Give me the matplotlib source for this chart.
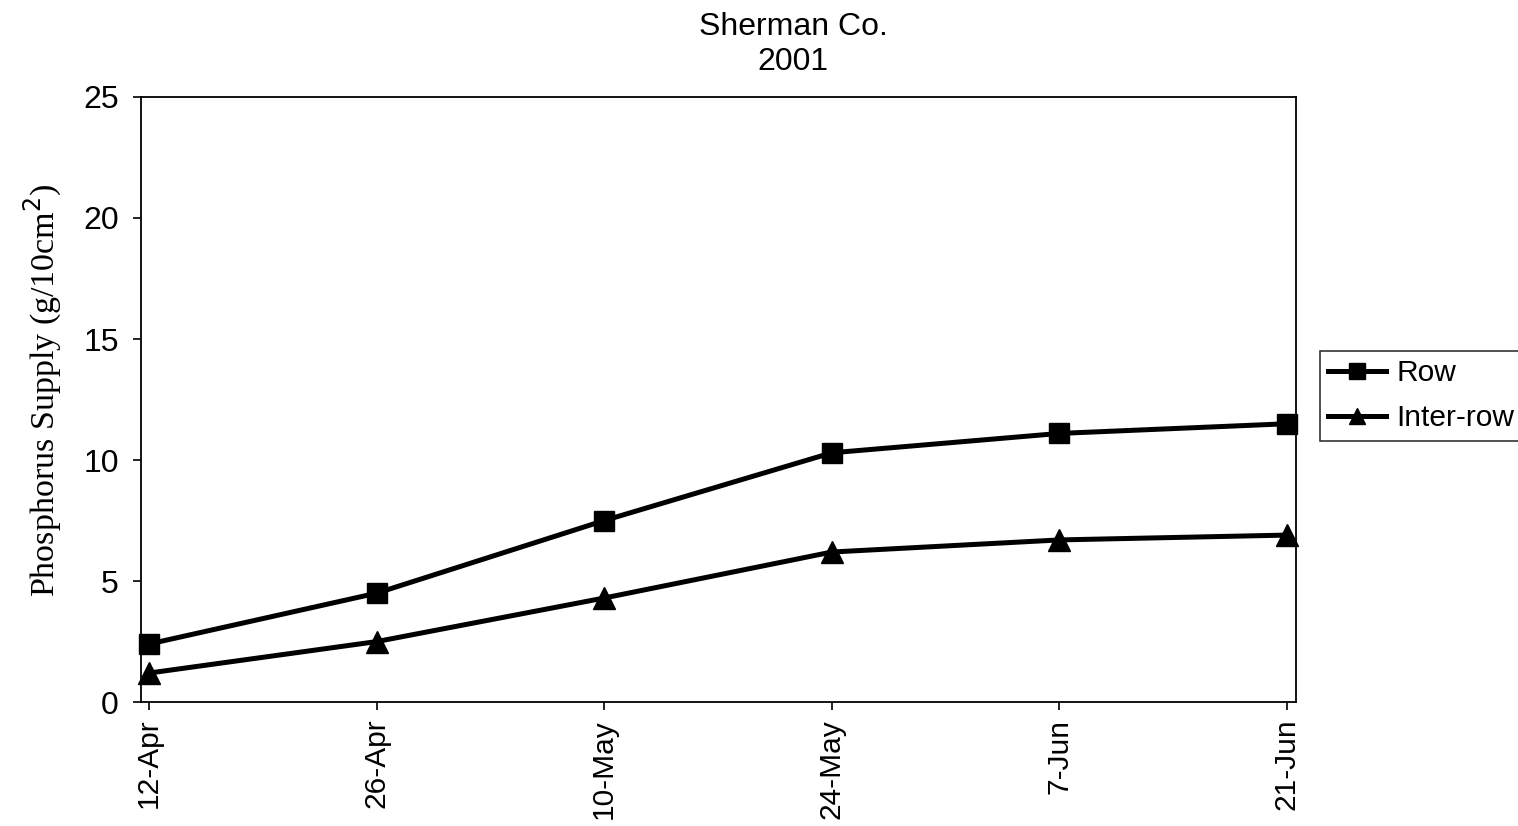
import matplotlib
matplotlib.use("Agg")
import matplotlib.pyplot as plt

dates = ["12-Apr", "26-Apr", "10-May", "24-May", "7-Jun", "21-Jun"]
row = [2.4, 4.5, 7.5, 10.3, 11.1, 11.5]
inter_row = [1.2, 2.5, 4.3, 6.2, 6.7, 6.9]
y_ticks = [0, 5, 10, 15, 20, 25]

sans = ["Liberation Sans", "DejaVu Sans"]
serif = ["Liberation Serif", "DejaVu Serif"]

fig = plt.figure(figsize=(15.18, 8.26), dpi=100)
ax = fig.add_axes([0.0929, 0.150, 0.7609, 0.7326])

x = list(range(len(dates)))
ax.plot(x, row, color="black", lw=3.6, marker="s", ms=15, label="Row",
        clip_on=False, zorder=3)
ax.plot(x, inter_row, color="black", lw=3.6, marker="^", ms=16, label="Inter-row",
        clip_on=False, zorder=3)

ax.set_xlim(-0.035, len(dates) - 1 + 0.04)
ax.set_ylim(0, 25)
ax.set_xticks(x)
ax.set_xticklabels(dates, rotation=90, fontsize=21.5, family=sans)
ax.set_yticks(y_ticks)
ax.set_yticklabels([str(v) for v in y_ticks], fontsize=23, family=sans)
ax.tick_params(axis="both", direction="out", length=6, width=1.2, colors="black")
ax.tick_params(axis="x", pad=6)
ax.tick_params(axis="y", pad=10)
for s in ax.spines.values():
    s.set_linewidth(1.3)
    s.set_color("black")

ax.set_ylabel("Phosphorus Supply (g/10cm$^2$)", fontsize=24.5, family=serif,
              labelpad=14, y=0.516)

fig.text(0.5225, 0.985, "Sherman Co.\n2001", ha="center", va="top",
         fontsize=23, family=sans, linespacing=1.2)

leg = ax.legend(loc="upper left", bbox_to_anchor=(1.0208, 0.580),
                prop={"family": sans, "size": 21.5}, frameon=True, fancybox=False,
                edgecolor="black", handlelength=1.94, handletextpad=0.33,
                borderpad=0.28, labelspacing=0.56, borderaxespad=0)
leg.get_frame().set_linewidth(1.2)
for h in leg.legend_handles:
    h.set_markersize(12)

fig.savefig("out.png", dpi=100, facecolor="white")
